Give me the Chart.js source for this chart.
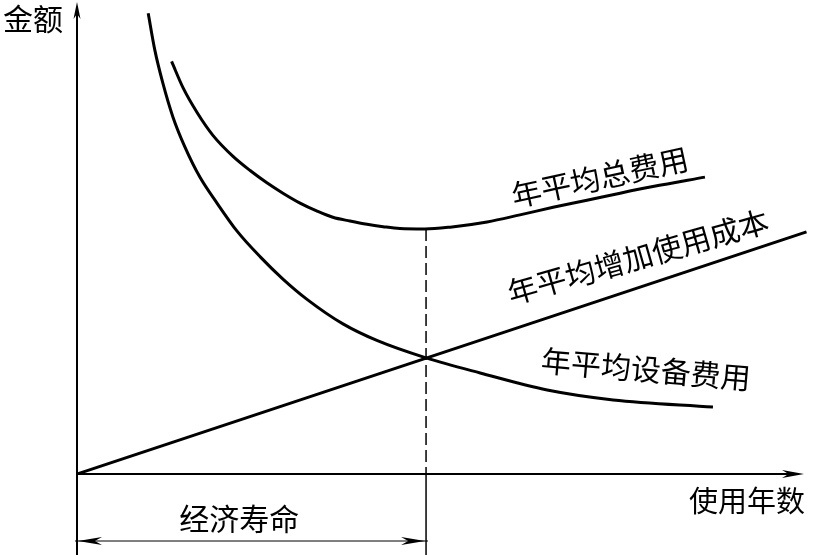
<!DOCTYPE html>
<html>
<head>
<meta charset="utf-8">
<script src="https://cdn.jsdelivr.net/npm/chart.js@4"></script>
<style>
  body { margin: 0; background: #fff; }
  canvas { display: block; }
</style>
</head>
<body>
<canvas id="lifeChart" width="814" height="555"></canvas>
<script>
// values (x = years, y = amount)
const equipYears = [2.04, 2.23, 2.46, 2.75, 3.09, 3.52, 4.01, 4.58, 5.25, 5.9, 6.59, 7.62, 8.59, 10, 11.55, 13.47, 15.36, 18.22];
const equipCost = [97.6, 89.8, 82.8, 75.6, 69.3, 62.9, 57.4, 51.5, 46.0, 41.3, 37.0, 31.8, 28.3, 24.6, 21.4, 17.8, 15.7, 14.2];

const totalYears = [2.71, 3.04, 3.44, 3.9, 4.47, 4.96, 5.44, 5.9, 6.39, 6.88, 7.33, 7.82, 8.31, 8.77, 9.25, 9.97, 10.69, 11.75, 12.69, 13.64, 14.61, 15.56, 16.5, 17.99];
const totalCost = [87.4, 81.8, 76.6, 71.7, 67.3, 64.3, 61.7, 59.5, 57.4, 55.7, 54.4, 53.6, 52.9, 52.4, 52.0, 51.9, 52.3, 53.4, 54.9, 56.5, 58.0, 59.5, 60.9, 62.9];

const addYears = [0, 20.9];
const addCost = [0, 51.3];

const lifeYear = 10;
const lifeTop = 51.9;

const yTitle = '金额';
const xTitle = '使用年数';
const lifeLabel = '经济寿命';
const seriesNames = ['年平均总费用', '年平均增加使用成本', '年平均设备费用'];

const toPoints = (xs, ys) => xs.map((v, i) => ({ x: v, y: ys[i] }));

const FONT = '"Noto Sans CJK SC", "Noto Sans", sans-serif';

function arrow(ctx, tx, ty, ang, len, half) {
  ctx.save();
  ctx.translate(tx, ty);
  ctx.rotate(ang);
  ctx.beginPath();
  ctx.moveTo(0, 0);
  ctx.lineTo(-len, -half);
  ctx.lineTo(-len * 0.7, 0);
  ctx.lineTo(-len, half);
  ctx.closePath();
  ctx.fill();
  ctx.restore();
}

function label(ctx, text, px, py, deg, size) {
  ctx.save();
  ctx.translate(px, py);
  ctx.rotate(deg * Math.PI / 180);
  ctx.font = size + 'px ' + FONT;
  ctx.textAlign = 'center';
  ctx.textBaseline = 'middle';
  ctx.fillText(text, 0, 0);
  ctx.restore();
}

const overlay = {
  id: 'overlay',
  afterDatasetsDraw(chart) {
    const { ctx, scales: { x, y } } = chart;
    const x0 = x.getPixelForValue(0);
    const y0 = y.getPixelForValue(0);
    const lx = x.getPixelForValue(lifeYear);
    ctx.save();
    ctx.strokeStyle = '#000';
    ctx.fillStyle = '#000';

    // axes
    ctx.lineWidth = 2;
    ctx.beginPath();
    ctx.moveTo(x0, chart.height);
    ctx.lineTo(x0, 10);
    ctx.moveTo(x0, y0);
    ctx.lineTo(x.right - 12, y0);
    ctx.stroke();
    arrow(ctx, x0, 2, -Math.PI / 2, 17, 3.5);
    arrow(ctx, x.right - 6, y0, 0, 22, 4);

    // economic life marker
    ctx.lineWidth = 1.5;
    ctx.setLineDash([12, 5]);
    ctx.beginPath();
    ctx.moveTo(lx, y.getPixelForValue(lifeTop));
    ctx.lineTo(lx, y0);
    ctx.stroke();
    ctx.setLineDash([]);
    ctx.beginPath();
    ctx.moveTo(lx, y0);
    ctx.lineTo(lx, chart.height);
    ctx.stroke();

    // dimension line
    const dy = y0 + 67;
    ctx.lineWidth = 1.2;
    ctx.beginPath();
    ctx.moveTo(x0 - 2, dy);
    ctx.lineTo(lx + 2, dy);
    ctx.stroke();
    arrow(ctx, x0 + 1, dy, Math.PI, 24, 4);
    arrow(ctx, lx - 1, dy, 0, 24, 4);

    // texts
    label(ctx, yTitle, 33, 19, 0, 30);
    label(ctx, xTitle, 747, y0 + 27, 0, 29);
    label(ctx, lifeLabel, x0 + (lx - x0) * 0.465, y0 + 45, 0, 30);
    label(ctx, seriesNames[0], x.getPixelForValue(14.98), y.getPixelForValue(62.9), -12.3, 30);
    label(ctx, seriesNames[1], x.getPixelForValue(16.07), y.getPixelForValue(46.0), -15.9, 30);
    label(ctx, seriesNames[2], x.getPixelForValue(16.3), y.getPixelForValue(22.2), 4.9, 30);
    ctx.restore();
  }
};

const lineStyle = {
  showLine: true,
  borderColor: '#000',
  borderWidth: 3,
  pointRadius: 0,
  fill: false,
  cubicInterpolationMode: 'monotone'
};

new Chart(document.getElementById('lifeChart'), {
  type: 'scatter',
  data: {
    datasets: [
      { label: seriesNames[0], data: toPoints(totalYears, totalCost), ...lineStyle },
      { label: seriesNames[1], data: toPoints(addYears, addCost), ...lineStyle },
      { label: seriesNames[2], data: toPoints(equipYears, equipCost), ...lineStyle }
    ]
  },
  options: {
    responsive: false,
    animation: false,
    layout: { padding: { left: 77, right: 4, top: 2, bottom: 81 } },
    scales: {
      x: { type: 'linear', min: 0, max: 21, display: false },
      y: { type: 'linear', min: 0, max: 100, display: false }
    },
    plugins: {
      legend: { display: false },
      tooltip: { enabled: false }
    }
  },
  plugins: [overlay]
});
</script>
</body>
</html>
